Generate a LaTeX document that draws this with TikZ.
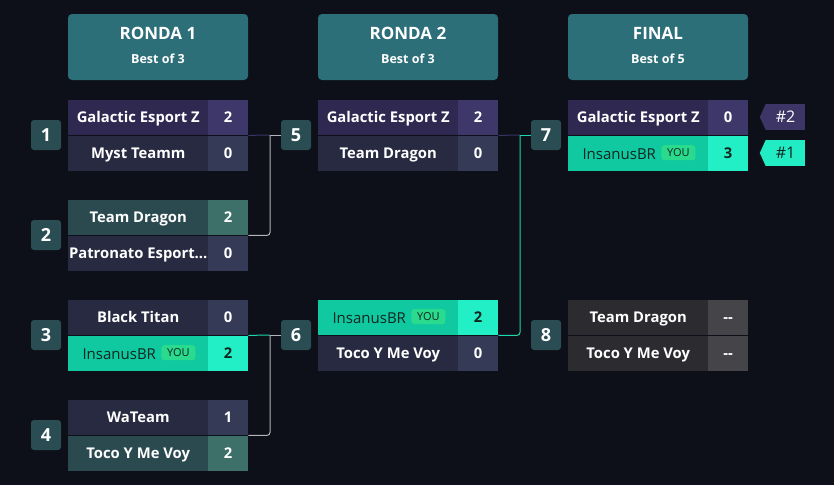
\documentclass[tikz,border=0pt]{standalone}
\usepackage{fontspec}
\setmainfont{Open Sans}
\definecolor{bg}{HTML}{0D1018}
\definecolor{hdr}{HTML}{2C6F79}
\definecolor{badgeC}{HTML}{2A4D53}
\definecolor{purN}{HTML}{2F2851}
\definecolor{purS}{HTML}{3D376A}
\definecolor{losN}{HTML}{272A41}
\definecolor{losS}{HTML}{353B57}
\definecolor{winN}{HTML}{2B4A50}
\definecolor{winS}{HTML}{3D7068}
\definecolor{youN}{HTML}{11C9A1}
\definecolor{youS}{HTML}{22EFC5}
\definecolor{youTxt}{HTML}{0E2620}
\definecolor{pillC}{HTML}{2ADB8E}
\definecolor{tbdN}{HTML}{2C2C30}
\definecolor{tbdS}{HTML}{454449}
\definecolor{lineG}{HTML}{B4B4B8}
\definecolor{lineP}{HTML}{3A3364}
\definecolor{lineT}{HTML}{1FD6AE}
\definecolor{tagP}{HTML}{3D3566}
\definecolor{tagT}{HTML}{22ECC4}
\newcommand\fname{\fontsize{14.8}{17}\selectfont\bfseries}
\newcommand\fyou{\fontsize{15}{17}\selectfont}
\tikzset{
  cellbase/.style={rectangle, inner sep=0pt, minimum height=35pt, anchor=north west,
    text=white, font=\fname, text height=10.5pt, text depth=0pt},
  namecell/.style={cellbase, minimum width=140pt},
  scorecell/.style={cellbase, minimum width=40pt},
  purname/.style={fill=purN}, purscore/.style={fill=purS},
  losname/.style={fill=losN}, losscore/.style={fill=losS},
  winname/.style={fill=winN}, winscore/.style={fill=winS},
  tbdname/.style={fill=tbdN}, tbdscore/.style={fill=tbdS},
  youname/.style={fill=youN}, youscore/.style={fill=youS, text=youTxt},
  youtext/.style={inner sep=0pt, text=youTxt, font=\fyou, text height=10.7pt, text depth=0pt},
  pillst/.style={rectangle, rounded corners=3pt, fill=pillC, minimum width=34pt,
    minimum height=15pt, inner sep=0pt, text=youTxt, font=\fontsize{11}{12}\selectfont,
    text height=7.8pt, text depth=0pt},
  hdrbox/.style={rectangle, rounded corners=4pt, fill=hdr, minimum width=180pt,
    minimum height=66pt, inner sep=0pt},
  hdrtitle/.style={inner sep=0pt, text=white, font=\fontsize{17}{20}\selectfont\bfseries,
    text height=12.2pt, text depth=0pt},
  hdrsub/.style={inner sep=0pt, text=white, font=\fontsize{12.5}{14}\selectfont\bfseries,
    text height=9pt, text depth=0pt},
  badgest/.style={rectangle, rounded corners=3pt, fill=badgeC, minimum width=30pt,
    minimum height=30pt, inner sep=0pt, text=white, font=\fontsize{18}{20}\selectfont\bfseries,
    text height=12.8pt, text depth=0pt},
  tagst/.style={rectangle, minimum width=39pt, minimum height=26pt, inner sep=0pt,
    font=\fontsize{16}{18}\selectfont, text height=11.5pt, text depth=0pt},
  conn/.style={line width=1pt, rounded corners=3pt},
}
\newcommand\teamrow[6]{%
  \node[namecell,#4name] (#1n) at (#2,#3) {#5};
  \node[scorecell,#4score] (#1s) at ({#2+140},#3) {#6};
}
\newcommand\youteam[4]{%
  \node[namecell,youname] (#1n) at (#2,#3) {};
  \node[scorecell,youscore] (#1s) at ({#2+140},#3) {#4};
  \node[youtext, anchor=east] (#1t) at ([xshift=18pt]#1n.center) {InsanusBR};
  \node[pillst, anchor=west] (#1p) at ([xshift=23pt,yshift=1pt]#1n.center) {YOU};
}
\begin{document}
\begin{tikzpicture}[x=1pt,y=-1pt]
\useasboundingbox (0,0) rectangle (834,485);
\fill[bg] (0,0) rectangle (834,485);
% headers
\node[hdrbox] (h1) at (158,47) {};
\node[hdrtitle] (h1t) at (158,33.5) {RONDA 1};
\node[hdrsub] (h1s) at (158,59) {Best of 3};
\node[hdrbox] (h2) at (408,47) {};
\node[hdrtitle] (h2t) at (408,33.5) {RONDA 2};
\node[hdrsub] (h2s) at (408,59) {Best of 3};
\node[hdrbox] (h3) at (658,47) {};
\node[hdrtitle] (h3t) at (658,33.5) {FINAL};
\node[hdrsub] (h3s) at (658,59) {Best of 5};
% round 1
\teamrow{m1a}{68}{100}{pur}{Galactic Esport Z}{2}
\teamrow{m1b}{68}{136}{los}{Myst Teamm}{0}
\teamrow{m2a}{68}{200}{win}{Team Dragon}{2}
\teamrow{m2b}{68}{236}{los}{Patronato Esport...}{0}
\teamrow{m3a}{68}{300}{los}{Black Titan}{0}
\youteam{m3b}{68}{336}{2}
\teamrow{m4a}{68}{400}{los}{WaTeam}{1}
\teamrow{m4b}{68}{436}{win}{Toco Y Me Voy}{2}
% round 2
\teamrow{m5a}{318}{100}{pur}{Galactic Esport Z}{2}
\teamrow{m5b}{318}{136}{los}{Team Dragon}{0}
\youteam{m6a}{318}{300}{2}
\teamrow{m6b}{318}{336}{los}{Toco Y Me Voy}{0}
% final
\teamrow{m7a}{568}{100}{pur}{Galactic Esport Z}{0}
\youteam{m7b}{568}{136}{3}
\teamrow{m8a}{568}{300}{tbd}{Team Dragon}{-{}-}
\teamrow{m8b}{568}{336}{tbd}{Toco Y Me Voy}{-{}-}
% badges
\node[badgest] (b1) at (46,135) {1};
\node[badgest] (b2) at (46,235) {2};
\node[badgest] (b3) at (46,335) {3};
\node[badgest] (b4) at (46,435) {4};
\node[badgest] (b5) at (296,135) {5};
\node[badgest] (b6) at (296,335) {6};
\node[badgest] (b7) at (546,135) {7};
\node[badgest] (b8) at (546,335) {8};
% tags
\node[tagst, fill=tagP, text=white] (t2) at (785.5,117) {\#2};
\fill[tagP] (t2.north west) -- ([xshift=-6pt]t2.west) -- (t2.south west) -- cycle;
\node[tagst, fill=tagT, text=youTxt] (t1) at (785.5,153) {\#1};
\fill[tagT] (t1.north west) -- ([xshift=-6pt]t1.west) -- (t1.south west) -- cycle;
% connectors
\coordinate (j5) at (270,135);
\coordinate (j6) at (270,335);
\coordinate (j7) at (520,135);
\draw[conn, lineP] (m1as.south east) -- (j5);
\draw[conn, lineG] (m2as.south east) -| (j5);
\draw[conn, lineG] (j5) -- (b5.west);
\draw[conn, lineT] (m3as.south east) -- (j6);
\draw[conn, lineG] (m4as.south east) -| (j6);
\draw[conn, lineG] (j6) -- (b6.west);
\draw[conn, lineP] (m5as.south east) -- (j7);
\draw[conn, lineT] (m6as.south east) -| (j7);
\draw[conn, lineT] (j7) -- (b7.west);
\end{tikzpicture}
\end{document}
